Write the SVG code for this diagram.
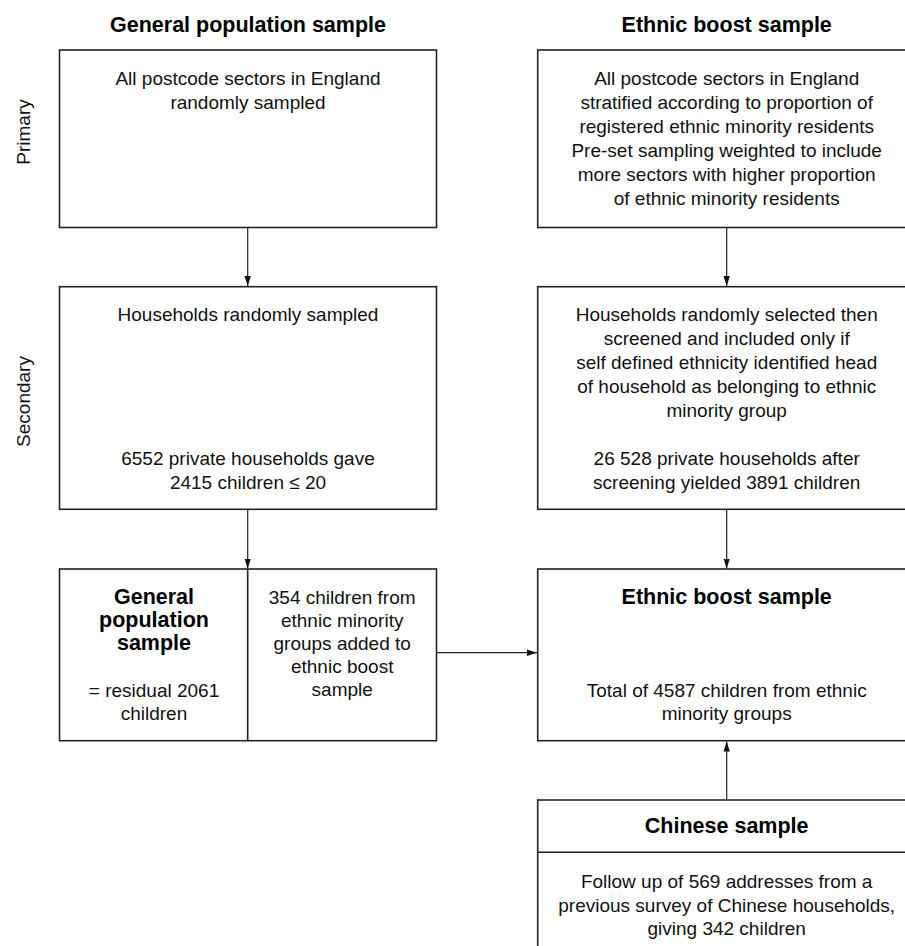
<svg xmlns="http://www.w3.org/2000/svg" width="905" height="946" viewBox="0 0 905 946">
<defs>
<style>
.box{fill:#fff;stroke:#222;stroke-width:1.6}
.ln{fill:none;stroke:#222;stroke-width:1.2}
.t{font-family:"Liberation Sans",Arial,sans-serif;font-size:19px;fill:#111;text-anchor:middle}
.b{font-family:"Liberation Sans",Arial,sans-serif;font-size:21.5px;font-weight:bold;fill:#000;text-anchor:middle}
</style>
<marker id="ah" viewBox="0 0 10 10" refX="10" refY="5" markerWidth="10" markerHeight="10" markerUnits="userSpaceOnUse" orient="auto">
<path d="M0,1.8 L10,5 L0,8.2 Z" fill="#111"/>
</marker>
</defs>
<rect width="905" height="946" fill="#fff"/>

<g id="headers">
<text class="b" x="248" y="32">General population sample</text>
<text class="b" x="726.7" y="32">Ethnic boost sample</text>
<text class="t" transform="translate(30,132) rotate(-90)" x="0" y="0">Primary</text>
<text class="t" transform="translate(30,401.5) rotate(-90)" x="0" y="0">Secondary</text>
</g>

<g id="gp-primary">
<rect class="box" x="59.5" y="50" width="377" height="177.5"/>
<text class="t" x="248" y="85">All postcode sectors in England</text>
<text class="t" x="248" y="109">randomly sampled</text>
</g>

<g id="eb-primary">
<rect class="box" x="537.7" y="50" width="378" height="177.5"/>
<text class="t" x="726.7" y="85">All postcode sectors in England</text>
<text class="t" x="726.7" y="109">stratified according to proportion of</text>
<text class="t" x="726.7" y="133">registered ethnic minority residents</text>
<text class="t" x="726.7" y="157">Pre-set sampling weighted to include</text>
<text class="t" x="726.7" y="181">more sectors with higher proportion</text>
<text class="t" x="726.7" y="205">of ethnic minority residents</text>
</g>

<g id="gp-secondary">
<rect class="box" x="59.5" y="286.7" width="377" height="222.6"/>
<text class="t" x="248" y="321">Households randomly sampled</text>
<text class="t" x="248" y="464.5">6552 private households gave</text>
<text class="t" x="248" y="488.5">2415 children ≤ 20</text>
</g>

<g id="eb-secondary">
<rect class="box" x="537.7" y="286.7" width="378" height="222.6"/>
<text class="t" x="726.7" y="321">Households randomly selected then</text>
<text class="t" x="726.7" y="345">screened and included only if</text>
<text class="t" x="726.7" y="369">self defined ethnicity identified head</text>
<text class="t" x="726.7" y="393">of household as belonging to ethnic</text>
<text class="t" x="726.7" y="417">minority group</text>
<text class="t" x="726.7" y="464.5">26 528 private households after</text>
<text class="t" x="726.7" y="488.5">screening yielded 3891 children</text>
</g>

<g id="gp-final">
<rect class="box" x="59.5" y="569" width="377" height="171.7"/>
<line class="ln" x1="247.7" y1="569" x2="247.7" y2="740.7" style="stroke-width:1.6"/>
<text class="b" x="154" y="604">General</text>
<text class="b" x="154" y="627">population</text>
<text class="b" x="154" y="650">sample</text>
<text class="t" x="154" y="697">= residual 2061</text>
<text class="t" x="154" y="720">children</text>
<text class="t" x="342.2" y="604">354 children from</text>
<text class="t" x="342.2" y="627">ethnic minority</text>
<text class="t" x="342.2" y="650">groups added to</text>
<text class="t" x="342.2" y="673">ethnic boost</text>
<text class="t" x="342.2" y="696">sample</text>
</g>

<g id="eb-final">
<rect class="box" x="537.7" y="569" width="378" height="171.7"/>
<text class="b" x="726.7" y="604">Ethnic boost sample</text>
<text class="t" x="726.7" y="697">Total of 4587 children from ethnic</text>
<text class="t" x="726.7" y="720">minority groups</text>
</g>

<g id="chinese">
<rect class="box" x="537.7" y="800" width="378" height="160"/>
<line class="ln" x1="537.7" y1="852.3" x2="915.7" y2="852.3" style="stroke-width:1.6"/>
<text class="b" x="726.7" y="833">Chinese sample</text>
<text class="t" x="726.7" y="888">Follow up of 569 addresses from a</text>
<text class="t" x="726.7" y="912">previous survey of Chinese households,</text>
<text class="t" x="726.7" y="935">giving 342 children</text>
</g>

<g id="connectors">
<line class="ln" x1="247.7" y1="227.5" x2="247.7" y2="286" marker-end="url(#ah)"/>
<line class="ln" x1="726.7" y1="227.5" x2="726.7" y2="286" marker-end="url(#ah)"/>
<line class="ln" x1="247.7" y1="509.3" x2="247.7" y2="568.5" marker-end="url(#ah)"/>
<line class="ln" x1="726.7" y1="509.3" x2="726.7" y2="568.5" marker-end="url(#ah)"/>
<line class="ln" x1="436.5" y1="652.7" x2="537" y2="652.7" marker-end="url(#ah)"/>
<line class="ln" x1="726.7" y1="800" x2="726.7" y2="741.5" marker-end="url(#ah)"/>
</g>
</svg>
